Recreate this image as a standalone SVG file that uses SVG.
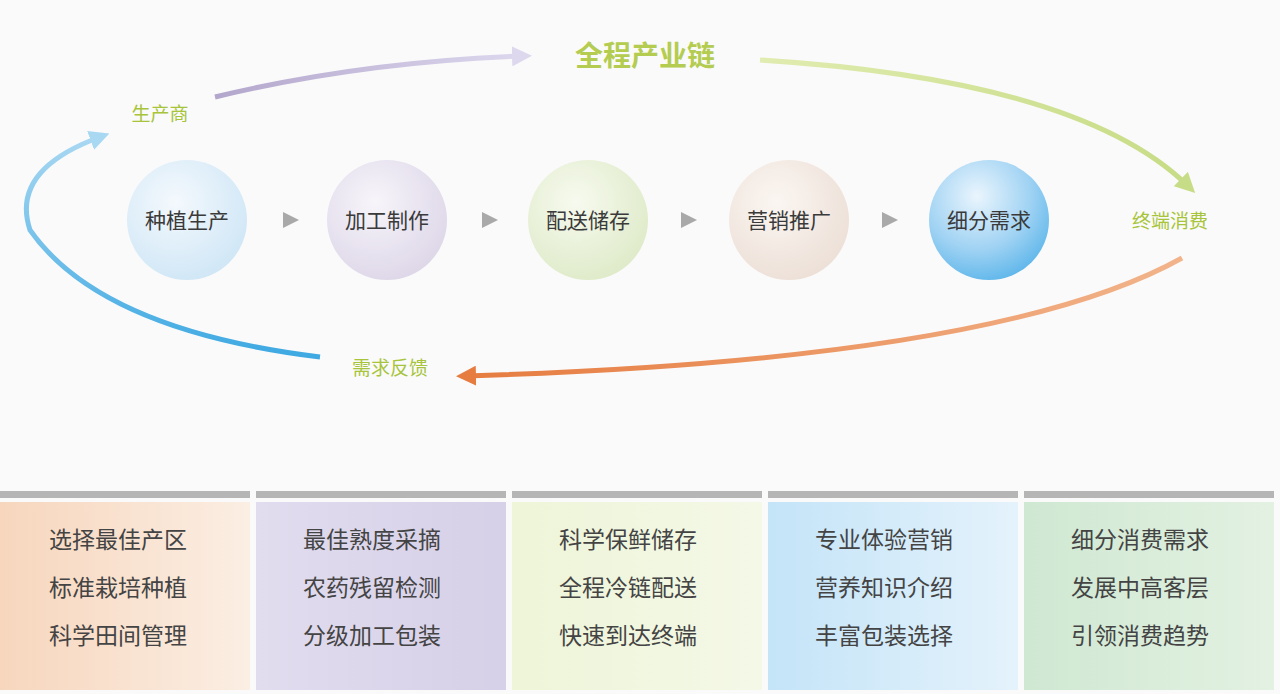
<svg xmlns="http://www.w3.org/2000/svg" width="1280" height="694" viewBox="0 0 1280 694">
<defs>
<style>
.t{font-family:"Noto Sans CJK SC","Noto Sans",sans-serif;fill:#3a3a3a}
.c{font-size:21px;text-anchor:middle}
.p{font-size:23px;text-anchor:middle;fill:#444}
.l{font-size:19px;fill:#a7c43a;text-anchor:middle}
.bar{fill:#b5b5b5}
.tri{fill:#a9a9a9}
</style>
<radialGradient id="g1" cx="0.4" cy="0.35" r="0.7"><stop offset="0" stop-color="#f4f9fd"/><stop offset="1" stop-color="#cfe6f6"/></radialGradient>
<radialGradient id="g2" cx="0.4" cy="0.35" r="0.7"><stop offset="0" stop-color="#f7f5fa"/><stop offset="1" stop-color="#ddd6e8"/></radialGradient>
<radialGradient id="g3" cx="0.4" cy="0.35" r="0.7"><stop offset="0" stop-color="#f7faef"/><stop offset="1" stop-color="#deeac8"/></radialGradient>
<radialGradient id="g4" cx="0.4" cy="0.35" r="0.7"><stop offset="0" stop-color="#fbf6f2"/><stop offset="1" stop-color="#ecdfd6"/></radialGradient>
<radialGradient id="g5" cx="0.4" cy="0.3" r="0.75"><stop offset="0" stop-color="#eaf5fd"/><stop offset="0.6" stop-color="#9fd2f3"/><stop offset="1" stop-color="#5bb5ea"/></radialGradient>
<linearGradient id="b1" x1="0" y1="0" x2="1" y2="0"><stop offset="0" stop-color="#f7d6bd"/><stop offset="1" stop-color="#fbeee3"/></linearGradient>
<linearGradient id="b2" x1="0" y1="0" x2="1" y2="0"><stop offset="0" stop-color="#e1dcee"/><stop offset="1" stop-color="#d6d0e8"/></linearGradient>
<linearGradient id="b3" x1="0" y1="0" x2="1" y2="0"><stop offset="0" stop-color="#eef5d8"/><stop offset="1" stop-color="#f4f8e7"/></linearGradient>
<linearGradient id="b4" x1="0" y1="0" x2="1" y2="0"><stop offset="0" stop-color="#c4e4f8"/><stop offset="1" stop-color="#e4f2fb"/></linearGradient>
<linearGradient id="b5" x1="0" y1="0" x2="1" y2="0"><stop offset="0" stop-color="#cfe8d2"/><stop offset="1" stop-color="#e3f1e2"/></linearGradient>
<linearGradient id="ap" x1="0" y1="0" x2="1" y2="0"><stop offset="0" stop-color="#b3a6cc"/><stop offset="1" stop-color="#ddd8ee"/></linearGradient>
<linearGradient id="ag" x1="0" y1="0" x2="1" y2="0"><stop offset="0" stop-color="#e0ecb0"/><stop offset="1" stop-color="#c7dc86"/></linearGradient>
<linearGradient id="ao" x1="1" y1="0" x2="0" y2="0"><stop offset="0" stop-color="#f2b48b"/><stop offset="1" stop-color="#e67c40"/></linearGradient>
<linearGradient id="ab" x1="0" y1="1" x2="0" y2="0"><stop offset="0" stop-color="#3ea9e2"/><stop offset="1" stop-color="#a9d8f2"/></linearGradient>
<marker id="mp" markerWidth="4" markerHeight="4" refX="2" refY="2" orient="auto" markerUnits="strokeWidth"><path d="M0,0L4,2L0,4z" fill="#ddd8ee"/></marker>
<marker id="mg" markerWidth="4" markerHeight="4" refX="2" refY="2" orient="auto" markerUnits="strokeWidth"><path d="M0,0L4,2L0,4z" fill="#c7dc86"/></marker>
<marker id="mo" markerWidth="4" markerHeight="4" refX="2" refY="2" orient="auto" markerUnits="strokeWidth"><path d="M0,0L4,2L0,4z" fill="#e67c40"/></marker>
<marker id="mb" markerWidth="4" markerHeight="4" refX="2" refY="2" orient="auto" markerUnits="strokeWidth"><path d="M0,0L4,2L0,4z" fill="#a9d8f2"/></marker>
</defs>
<rect width="1280" height="694" fill="#fafafa"/>
<g id="connectors" fill="none" stroke-width="5">
<path d="M215,97 Q360,62 522,56" stroke="url(#ap)" marker-end="url(#mp)"/>
<path d="M760,60 Q1080,80 1188,186" stroke="url(#ag)" marker-end="url(#mg)"/>
<path d="M1182,258 Q1000,360 466,376" stroke="url(#ao)" marker-end="url(#mo)"/>
<path d="M320,357 Q100,330 30,230 Q10,170 100,137" stroke="url(#ab)" marker-end="url(#mb)"/>
<path class="tri" stroke="none" d="M283,212L299,220L283,228z M482,212L498,220L482,228z M681,212L697,220L681,228z M882,212L898,220L882,228z"/>
</g>
<g id="labels">
<text class="t" x="645" y="66" font-size="28" font-weight="bold" text-anchor="middle" style="fill:#b4cc50">全程产业链</text>
<text class="t l" x="160" y="121" style="fill:#a7c43a">生产商</text>
<text class="t l" x="1170" y="228" style="fill:#a7c43a">终端消费</text>
<text class="t l" x="390" y="375" style="fill:#a7c43a">需求反馈</text>
</g>
<g id="n1"><circle cx="187" cy="220" r="60" fill="url(#g1)"/><text class="t c" x="187" y="228">种植生产</text></g>
<g id="n2"><circle cx="387" cy="220" r="60" fill="url(#g2)"/><text class="t c" x="387" y="228">加工制作</text></g>
<g id="n3"><circle cx="588" cy="220" r="60" fill="url(#g3)"/><text class="t c" x="588" y="228">配送储存</text></g>
<g id="n4"><circle cx="789" cy="220" r="60" fill="url(#g4)"/><text class="t c" x="789" y="228">营销推广</text></g>
<g id="n5"><circle cx="989" cy="220" r="60" fill="url(#g5)"/><text class="t c" x="989" y="228">细分需求</text></g>
<g id="p1"><rect class="bar" x="0" y="491" width="250" height="7"/><rect x="0" y="502" width="250" height="188" fill="url(#b1)"/>
<text class="t p" x="118" y="548">选择最佳产区</text><text class="t p" x="118" y="596">标准栽培种植</text><text class="t p" x="118" y="644">科学田间管理</text></g>
<g id="p2"><rect class="bar" x="256" y="491" width="250" height="7"/><rect x="256" y="502" width="250" height="188" fill="url(#b2)"/>
<text class="t p" x="372" y="548">最佳熟度采摘</text><text class="t p" x="372" y="596">农药残留检测</text><text class="t p" x="372" y="644">分级加工包装</text></g>
<g id="p3"><rect class="bar" x="512" y="491" width="250" height="7"/><rect x="512" y="502" width="250" height="188" fill="url(#b3)"/>
<text class="t p" x="628" y="548">科学保鲜储存</text><text class="t p" x="628" y="596">全程冷链配送</text><text class="t p" x="628" y="644">快速到达终端</text></g>
<g id="p4"><rect class="bar" x="768" y="491" width="250" height="7"/><rect x="768" y="502" width="250" height="188" fill="url(#b4)"/>
<text class="t p" x="884" y="548">专业体验营销</text><text class="t p" x="884" y="596">营养知识介绍</text><text class="t p" x="884" y="644">丰富包装选择</text></g>
<g id="p5"><rect class="bar" x="1024" y="491" width="250" height="7"/><rect x="1024" y="502" width="250" height="188" fill="url(#b5)"/>
<text class="t p" x="1140" y="548">细分消费需求</text><text class="t p" x="1140" y="596">发展中高客层</text><text class="t p" x="1140" y="644">引领消费趋势</text></g>
</svg>
